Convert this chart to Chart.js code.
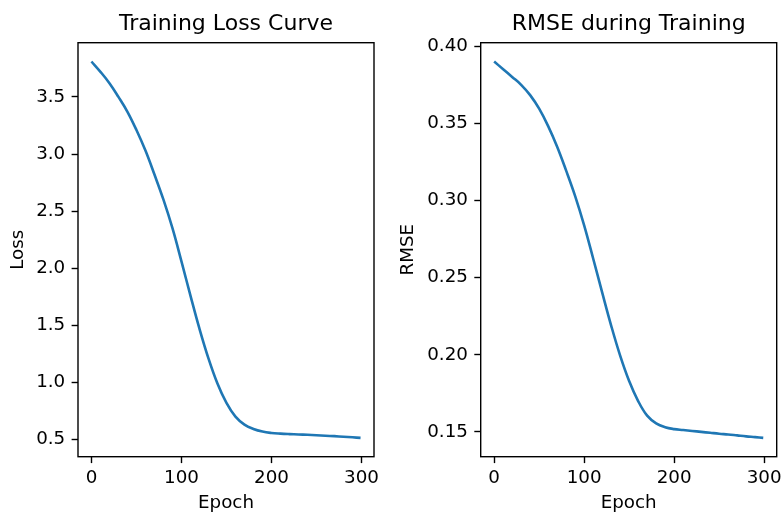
<!DOCTYPE html>
<html>
<head>
<meta charset="utf-8">
<script src="https://cdn.jsdelivr.net/npm/chart.js@4"></script>
<style>
  html, body { margin: 0; padding: 0; background: #fff; overflow: hidden; }
  canvas { position: absolute; top: 0; }
</style>
</head>
<body>
<canvas id="lossChart" width="390" height="513" style="left:0"></canvas>
<canvas id="rmseChart" width="391" height="513" style="left:390px"></canvas>
<script>
// Values
const epochs = [0, 10, 20, 30, 40, 50, 60, 70, 80, 90, 100, 110, 120, 130, 140, 150,
  160, 170, 180, 190, 200, 210, 220, 230, 240, 250, 260, 270, 280, 290, 299];
const lossValues = [3.81, 3.72, 3.62, 3.50, 3.37, 3.21, 3.03, 2.82, 2.60, 2.35, 2.06, 1.76,
  1.47, 1.21, 0.99, 0.82, 0.70, 0.63, 0.592, 0.569, 0.557, 0.551, 0.547, 0.544, 0.541,
  0.537, 0.533, 0.529, 0.524, 0.519, 0.514];
const rmseValues = [0.3903, 0.3853, 0.3803, 0.3752, 0.3685, 0.3597, 0.3484, 0.3350, 0.3195,
  0.3030, 0.2840, 0.2625, 0.2405, 0.2190, 0.1995, 0.1830, 0.1700, 0.1605, 0.1555, 0.1530,
  0.1518, 0.1512, 0.1506, 0.1500, 0.1494, 0.1488, 0.1483, 0.1477, 0.1471, 0.1466, 0.1461];

const epochTicks = [0, 100, 200, 300];
const lossTicks = [0.5, 1.0, 1.5, 2.0, 2.5, 3.0, 3.5];
const rmseTicks = [0.15, 0.20, 0.25, 0.30, 0.35, 0.40];

const FONT = "'DejaVu Sans', sans-serif";
const LINE_COLOR = '#1f77b4';

// matplotlib style 5% margins around the data
function paddedRange(values) {
  const lo = Math.min(...values);
  const hi = Math.max(...values);
  const m = (hi - lo) * 0.05;
  return { min: lo - m, max: hi + m };
}

// draws the full box around the plot area
const frame = {
  id: 'frame',
  afterDatasetsDraw(chart) {
    const { ctx, chartArea: a } = chart;
    ctx.save();
    ctx.strokeStyle = '#000';
    ctx.lineWidth = 1.4;
    ctx.strokeRect(a.left, a.top, a.right - a.left, a.bottom - a.top);
    ctx.restore();
  }
};

function makeChart(canvasId, title, yLabel, values, yTicks, decimals, yWidth, rightPad) {
  const xr = paddedRange(epochs);
  const yr = paddedRange(values);
  const points = epochs.map((e, i) => ({ x: e, y: values[i] }));

  const tickGrid = {
    drawOnChartArea: false,
    drawTicks: true,
    tickLength: 6.4,
    tickWidth: 1.4,
    tickColor: '#000',
    color: '#000'
  };

  return new Chart(document.getElementById(canvasId).getContext('2d'), {
    type: 'line',
    data: {
      datasets: [{
        data: points,
        borderColor: LINE_COLOR,
        borderWidth: 2.6,
        pointRadius: 0,
        tension: 0.4,
        fill: false
      }]
    },
    options: {
      responsive: false,
      animation: false,
      layout: { padding: { left: 0, right: rightPad, top: 0, bottom: 0 } },
      plugins: {
        legend: { display: false },
        tooltip: { enabled: false },
        title: {
          display: true,
          text: title,
          fullSize: false,
          color: '#000',
          font: { family: FONT, size: 22, weight: 'normal', lineHeight: 1.2 },
          padding: { top: 10.8, bottom: 5.5 }
        }
      },
      scales: {
        x: {
          type: 'linear',
          min: xr.min,
          max: xr.max,
          border: { display: false },
          grid: tickGrid,
          afterBuildTicks: s => { s.ticks = epochTicks.map(v => ({ value: v })); },
          afterFit: s => { s.height = 56.3; s.paddingLeft = 0; s.paddingRight = 0; },
          ticks: {
            color: '#000',
            padding: 4.1,
            maxRotation: 0,
            autoSkip: false,
            font: { family: FONT, size: 18.3 },
            callback: v => String(v)
          },
          title: {
            display: true,
            text: 'Epoch',
            color: '#000',
            font: { family: FONT, size: 18.3, lineHeight: 1.2 },
            padding: { top: 0, bottom: -1.5 }
          }
        },
        y: {
          min: yr.min,
          max: yr.max,
          border: { display: false },
          grid: tickGrid,
          afterBuildTicks: s => { s.ticks = yTicks.map(v => ({ value: v })); },
          afterFit: s => { s.width = yWidth; s.paddingTop = 0; s.paddingBottom = 0; },
          ticks: {
            color: '#000',
            padding: 6.4,
            autoSkip: false,
            font: { family: FONT, size: 18.3 },
            callback: v => Number(v).toFixed(decimals)
          },
          title: {
            display: true,
            text: yLabel,
            color: '#000',
            font: { family: FONT, size: 18.3, lineHeight: 1.2 },
            padding: { top: 7.6, bottom: 0 }
          }
        }
      }
    },
    plugins: [frame]
  });
}

makeChart('lossChart', 'Training Loss Curve', 'Loss', lossValues, lossTicks, 1, 78, 16);
makeChart('rmseChart', 'RMSE during Training', 'RMSE', rmseValues, rmseTicks, 2, 90.7, 4.3);
</script>
</body>
</html>
